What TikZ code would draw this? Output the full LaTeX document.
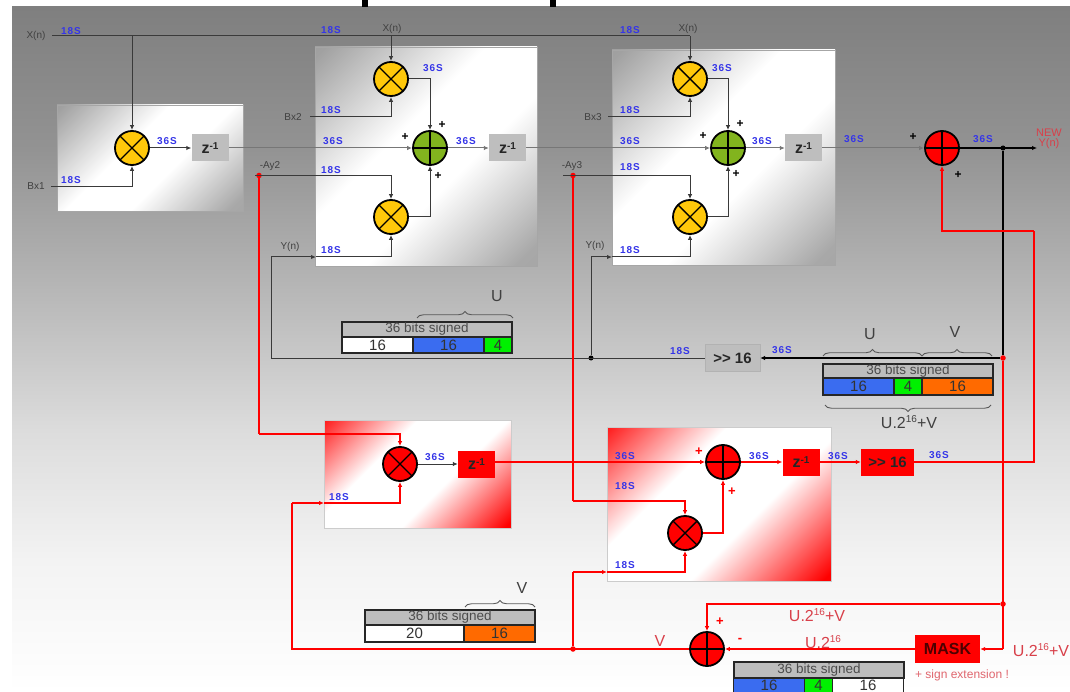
\documentclass[tikz,border=0pt]{standalone}
\usepackage{fontspec}
\setmainfont{Liberation Sans}
\newfontfamily\spacedbold[LetterSpace=9]{Liberation Sans Bold}
\usetikzlibrary{arrows.meta,decorations.pathreplacing}
\definecolor{lbl}{HTML}{404040}
\definecolor{bluetxt}{HTML}{3535E8}
\definecolor{redtxt}{HTML}{D8404A}
\definecolor{lined}{HTML}{3A3A3A}
\definecolor{linel}{HTML}{777777}
\definecolor{mulyellow}{HTML}{FFC80A}
\definecolor{addgreen}{HTML}{82B41E}
\definecolor{boxgray}{HTML}{BEBEBE}
\definecolor{hdrgray}{HTML}{BDBDBD}
\definecolor{cellblue}{HTML}{3A6CF0}
\definecolor{cellgreen}{HTML}{00F000}
\definecolor{cellorange}{HTML}{FF6A00}
\pgfdeclareverticalshading{bggrad}{100bp}{rgb(0bp)=(1,1,1);rgb(25bp)=(1,1,1);rgb(34.6bp)=(.953,.953,.953);rgb(44.1bp)=(.863,.863,.863);rgb(55.1bp)=(.706,.706,.706);rgb(64.6bp)=(.576,.576,.576);rgb(75bp)=(.498,.498,.498);rgb(100bp)=(.498,.498,.498)}
\pgfdeclarehorizontalshading{panelg}{100bp}{rgb(0bp)=(.62,.62,.62);rgb(18bp)=(.66,.66,.66);rgb(42bp)=(1,1,1);rgb(58bp)=(1,1,1);rgb(84bp)=(.63,.63,.63);rgb(100bp)=(.6,.6,.6)}
\pgfdeclarehorizontalshading{panelr}{100bp}{rgb(0bp)=(1,0,0);rgb(16bp)=(1,0,0);rgb(41bp)=(1,1,1);rgb(63bp)=(1,1,1);rgb(88bp)=(1,0,0);rgb(100bp)=(1,0,0)}
\newcommand{\fsz}[1]{\fontsize{#1}{#1}\selectfont}
\newcommand{\zinv}{\fsz{16}\textbf{z}\raisebox{4.5pt}{\fsz{10}\textbf{-1}}}
\newcommand{\ulab}[1]{U.2\raisebox{5.5pt}{\fsz{10}16}#1}
\tikzset{
 x=1pt,y=-1pt,
 panelgray/.style={rectangle,draw=gray!70,line width=.4pt,inner sep=0,shading=panelg,shading angle=135},
 panelred/.style={rectangle,draw=gray!40,line width=.4pt,inner sep=0,shading=panelr,shading angle=135},
 adder/.style={circle,draw=black,line width=1.8pt,minimum size=34pt,inner sep=0,fill=#1,path picture={\draw[black,line width=1.4pt](path picture bounding box.north)--(path picture bounding box.south)(path picture bounding box.west)--(path picture bounding box.east);}},
 mult/.style={circle,draw=black,line width=1.8pt,minimum size=34pt,inner sep=0,fill=#1,path picture={\draw[black,line width=1.4pt](path picture bounding box.north west)--(path picture bounding box.south east)(path picture bounding box.south west)--(path picture bounding box.north east);}},
 zbox/.style={rectangle,fill=#1,inner sep=0,minimum width=37pt,minimum height=27pt,text=black!85},
 lab/.style={text=lbl,font=\fsz{10},inner sep=0},
 bl/.style={text=bluetxt,font=\fsz{10}\spacedbold,inner sep=0},
 plusk/.style={text=black,font=\fsz{12}\bfseries,inner sep=0},
 plusr/.style={text=red,font=\fsz{13}\bfseries,inner sep=0},
 redlab/.style={text=redtxt,font=\fsz{16},inner sep=0},
 bigk/.style={text=lbl,font=\fsz{16},inner sep=0},
 cellbox/.style={rectangle,draw=black!85,line width=1.1pt,inner sep=0,text=black!80,font=\fsz{15}},
 hdrbox/.style={rectangle,draw=black!85,line width=1.1pt,fill=hdrgray,inner sep=0,text=black!70,font=\fsz{13.5}},
 sig/.style={draw=lined,line width=1pt},
 sigl/.style={draw=linel,line width=1pt},
 sigk/.style={draw=black,line width=1.3pt},
 sigr/.style={draw=red,line width=1.1pt},
 tip/.style={-{Latex[length=5pt,width=4.5pt]}},
 dotk/.style={circle,fill=black,inner sep=0,minimum size=5pt},
 dotr/.style={circle,fill=red,inner sep=0,minimum size=5.5pt},
 brc/.style={draw=black!65,line width=.9pt,decorate,decoration={brace,amplitude=6.5pt}},
 brcm/.style={draw=black!65,line width=.9pt,decorate,decoration={brace,amplitude=6.5pt,mirror}},
 stub/.style={rectangle,fill=black,inner sep=0,minimum width=6pt,minimum height=7pt},
}
\begin{document}
\begin{tikzpicture}
\useasboundingbox (0,0) rectangle (1070,692);
\fill[white] (0,0) rectangle (1070,692);
\shade[shading=bggrad] (12,7) rectangle (1070,692);
\node[stub] (st1) at (364.5,3.5) {};
\node[stub] (st2) at (553,3.5) {};
% panels
\node[panelgray,minimum width=186pt,minimum height=106pt] (p1) at (150,158) {};
\node[panelgray,minimum width=222pt,minimum height=219pt] (p2) at (426,156.5) {};
\node[panelgray,minimum width=223pt,minimum height=215pt] (p3) at (723.5,157.5) {};
\node[panelred,minimum width=187pt,minimum height=108pt] (p4) at (417.5,474) {};
\node[panelred,minimum width=224pt,minimum height=154pt] (p5) at (719,504) {};
% block nodes
\node[mult=mulyellow] (m1) at (132,148) {};
\node[zbox=boxgray] (z1) at (210,148) {\zinv};
\node[mult=mulyellow] (m2t) at (391,79) {};
\node[mult=mulyellow] (m2b) at (391,217) {};
\node[adder=addgreen] (a2) at (430,148) {};
\node[zbox=boxgray] (z2) at (507.5,148) {\zinv};
\node[mult=mulyellow] (m3t) at (690,79) {};
\node[mult=mulyellow] (m3b) at (690,217) {};
\node[adder=addgreen] (a3) at (728,148) {};
\node[zbox=boxgray] (z3) at (803.5,148) {\zinv};
\node[adder=red] (a4) at (942,148) {};
\node[rectangle,fill=boxgray,draw=gray!60,line width=.3pt,inner sep=0,minimum width=55pt,minimum height=27pt,font=\fsz{15}\bfseries,text=black!85] (sh1) at (732.5,358) {{>}{>} 16};
\node[mult=red] (m4) at (400,464) {};
\node[zbox=red] (z4) at (476.5,464) {\zinv};
\node[adder=red] (a5) at (723,462) {};
\node[mult=red] (m5) at (685,533) {};
\node[zbox=red] (z5) at (801,462) {\zinv};
\node[rectangle,fill=red,inner sep=0,minimum width=53pt,minimum height=27pt,font=\fsz{15}\bfseries,text=black!85] (sh2) at (887.5,462) {{>}{>} 16};
\node[adder=red] (a6) at (707,649) {};
\node[rectangle,fill=red,inner sep=0,minimum width=65pt,minimum height=28pt,font=\fsz{16}\bfseries,text=black!70!red] (mask) at (947.5,649) {MASK};
% junctions and free ends
\node[dotr] (dAy2) at (259,175.5) {};
\node[dotr] (dAy3) at (573,175.5) {};
\node[dotk] (dOut) at (1003,148) {};
\node[dotr] (dFb) at (1003,358) {};
\node[dotk] (dY3) at (591,358) {};
\node[dotr] (dV) at (573,649) {};
\node[dotr] (dU) at (1003,604) {};
\coordinate (xs) at (52,36);
\coordinate (xj1) at (132,36);
\coordinate (xj2) at (391,36);
\coordinate (xe) at (690,36);
\coordinate (bx1) at (51,187);
\coordinate (bx2) at (310,117);
\coordinate (bx3) at (608,117);
\coordinate (ay2) at (255,176);
\coordinate (ay3) at (563,176);
\coordinate (y2c) at (271,358);
\coordinate (y2u) at (271,257);
\coordinate (y2m) at (316,257);
\coordinate (y3u) at (591,257);
\coordinate (y3m) at (612,257);
\coordinate (newy) at (1037,148);
\coordinate (rfb) at (1034,231);
\coordinate (rfb2) at (1034,462);
\coordinate (ay2c) at (259,434);
\coordinate (ay3c) at (573,501);
\coordinate (vc) at (292,649);
\coordinate (vu) at (292,503);
\coordinate (vm) at (324,503);
\coordinate (v2u) at (573,572);
\coordinate (v2m) at (607,572);
\coordinate (maskin) at (1003,649);
% black connectors
\draw[sig] (xs) -- (xe);
\draw[sig,tip] (xj1) -- (m1.north);
\draw[sig,tip] (xj2) -- (m2t.north);
\draw[sig,tip] (xe) -- (m3t.north);
\draw[sig,tip] (bx1) -| (m1.south);
\draw[sig,tip] (m1.east) -- (z1.west);
\draw[sigl,tip] (z1.east) -- (a2.west);
\draw[sig,tip] (bx2) -| (m2t.south);
\draw[sig,tip] (m2t.east) -| (a2.north);
\draw[sig,tip] (m2b.east) -| (a2.south);
\draw[sig,tip] (ay2) -| (m2b.north);
\draw[sigl,tip] (a2.east) -- (z2.west);
\draw[sig,tip] (y2u) -- (y2m);
\draw[sig,tip] (y2m) -| (m2b.south);
\draw[sig] (sh1.west) -- (y2c) -- (y2u);
\draw[sigl,tip] (z2.east) -- (a3.west);
\draw[sig,tip] (bx3) -| (m3t.south);
\draw[sig,tip] (m3t.east) -| (a3.north);
\draw[sig,tip] (m3b.east) -| (a3.south);
\draw[sig,tip] (ay3) -| (m3b.north);
\draw[sigl,tip] (a3.east) -- (z3.west);
\draw[sig] (dY3) -- (y3u);
\draw[sig,tip] (y3u) -- (y3m);
\draw[sig,tip] (y3m) -| (m3b.south);
\draw[sigl,tip] (z3.east) -- (a4.west);
\draw[sigk,tip] (a4.east) -- (newy);
\draw[sigk] (dOut) -- (dFb);
\draw[sigk,tip] (dFb) -- (sh1.east);
\draw[sig,tip] (m4.east) -- (z4.west);
% red connectors
\draw[sigr] (dAy2) -- (ay2c);
\draw[sigr,tip] (ay2c) -| (m4.north);
\draw[sigr] (dAy3) -- (ay3c);
\draw[sigr,tip] (ay3c) -| (m5.north);
\draw[sigr,tip] (z4.east |- a5.west) -- (a5.west);
\draw[sigr,tip] (m5.east) -| (a5.south);
\draw[sigr,tip] (a5.east) -- (z5.west);
\draw[sigr,tip] (z5.east) -- (sh2.west);
\draw[sigr] (sh2.east) -- (rfb2) -- (rfb);
\draw[sigr,tip] (rfb) -| (a4.south);
\draw[sigr] (dFb) -- (maskin);
\draw[sigr,tip] (maskin) -- (mask.east);
\draw[sigr,tip] (dU) -| (a6.north);
\draw[sigr,tip] (mask.west) -- (a6.east);
\draw[sigr] (a6.west) -- (vc) -- (vu);
\draw[sigr,tip] (vu) -- (vm);
\draw[sigr,tip] (vm) -| (m4.south);
\draw[sigr] (dV) -- (v2u);
\draw[sigr,tip] (v2u) -- (v2m);
\draw[sigr,tip] (v2m) -| (m5.south);
% text labels
\node[lab] (tx1) at (36,36) {X(n)};
\node[lab] (tx2) at (392,29) {X(n)};
\node[lab] (tx3) at (688,29) {X(n)};
\node[lab] (tb1) at (36,186) {Bx1};
\node[lab] (tb2) at (293,117) {Bx2};
\node[lab] (tb3) at (593,117) {Bx3};
\node[lab] (ta2) at (270,166) {-Ay2};
\node[lab] (ta3) at (572,166) {-Ay3};
\node[lab] (ty2) at (290,247) {Y(n)};
\node[lab] (ty3) at (595,246) {Y(n)};
\node[inner sep=0,text=redtxt,font=\fsz{11},align=center] (tnew) at (1049,139) {NEW\\[-1pt]Y(n)};
\node[bl] (b1) at (71,31) {18S};
\node[bl] (b2) at (331,30) {18S};
\node[bl] (b3) at (630,30) {18S};
\node[bl] (b4) at (167,141) {36S};
\node[bl] (b5) at (71,180) {18S};
\node[bl] (b6) at (433,68) {36S};
\node[bl] (b7) at (331,110) {18S};
\node[bl] (b8) at (333,141) {36S};
\node[bl] (b9) at (466,141) {36S};
\node[bl] (b10) at (331,170) {18S};
\node[bl] (b11) at (331,250) {18S};
\node[bl] (b12) at (722,68) {36S};
\node[bl] (b13) at (630,110) {18S};
\node[bl] (b14) at (630,141) {36S};
\node[bl] (b15) at (762,141) {36S};
\node[bl] (b16) at (630,167) {18S};
\node[bl] (b17) at (630,250) {18S};
\node[bl] (b18) at (854,139) {36S};
\node[bl] (b19) at (983,139) {36S};
\node[bl] (b20) at (680,351) {18S};
\node[bl] (b21) at (782,350) {36S};
\node[bl] (b22) at (339,497) {18S};
\node[bl] (b23) at (435,457) {36S};
\node[bl] (b24) at (625,456) {36S};
\node[bl] (b25) at (625,486) {18S};
\node[bl] (b26) at (625,565) {18S};
\node[bl] (b27) at (759,456) {36S};
\node[bl] (b28) at (838,456) {36S};
\node[bl] (b29) at (939,455) {36S};
\node[plusk] (pl1) at (442,125) {+};
\node[plusk] (pl2) at (405,137) {+};
\node[plusk] (pl3) at (438,176) {+};
\node[plusk] (pl4) at (740,124) {+};
\node[plusk] (pl5) at (703,136) {+};
\node[plusk] (pl6) at (736,174) {+};
\node[plusk] (pl7) at (913,137) {+};
\node[plusk] (pl8) at (958,175) {+};
\node[plusr] (pr1) at (699,452) {+};
\node[plusr] (pr2) at (732,492) {+};
\node[plusr] (pr3) at (720,622) {+};
\node[plusr] (pr4) at (740,640) {-};
\node[redlab] (rl1) at (660,641) {V};
\node[redlab] (rl2) at (817,615) {\ulab{+V}};
\node[redlab] (rl3) at (823,642) {\ulab{}};
\node[redlab] (rl4) at (1041,650) {\ulab{+V}};
\node[inner sep=0,text=redtxt!80,font=\fsz{12}] (rl5) at (962,675) {+ sign extension !};
% table 1
\node[hdrbox,minimum width=170pt,minimum height=15pt] (t1h) at (427,329.5) {36 bits signed};
\node[cellbox,fill=white,minimum width=71pt,minimum height=16pt] (t1a) at (377.5,345) {16};
\node[cellbox,fill=cellblue,minimum width=71pt,minimum height=16pt] (t1b) at (448.5,345) {16};
\node[cellbox,fill=cellgreen,minimum width=28pt,minimum height=16pt] (t1c) at (498,345) {4};
\coordinate (t1bl) at (417,318);
\coordinate (t1br) at (513,318);
\draw[brc] (t1bl) -- (t1br);
\node[bigk] (t1u) at (497,296) {U};
% table 2
\node[hdrbox,minimum width=170pt,minimum height=14pt] (t2h) at (908,371) {36 bits signed};
\node[cellbox,fill=cellblue,minimum width=71pt,minimum height=17pt] (t2a) at (858.5,386.5) {16};
\node[cellbox,fill=cellgreen,minimum width=28pt,minimum height=17pt] (t2b) at (908,386.5) {4};
\node[cellbox,fill=cellorange,minimum width=71pt,minimum height=17pt] (t2c) at (957.5,386.5) {16};
\coordinate (t2u1) at (823,356);
\coordinate (t2u2) at (922,356);
\coordinate (t2v2) at (992,356);
\coordinate (t2w1) at (825,405);
\coordinate (t2w2) at (991,405);
\draw[brc] (t2u1) -- (t2u2);
\draw[brc] (t2u2) -- (t2v2);
\draw[brcm] (t2w1) -- (t2w2);
\node[bigk] (t2u) at (870,334) {U};
\node[bigk] (t2v) at (955,332) {V};
\node[bigk] (t2w) at (909,422) {\ulab{+V}};
% table 3
\node[hdrbox,minimum width=170pt,minimum height=15pt] (t3h) at (450,617.5) {36 bits signed};
\node[cellbox,fill=white,minimum width=99pt,minimum height=17pt] (t3a) at (414.5,633.5) {20};
\node[cellbox,fill=cellorange,minimum width=71pt,minimum height=17pt] (t3b) at (499.5,633.5) {16};
\coordinate (t3b1) at (465,607);
\coordinate (t3b2) at (535,607);
\draw[brc] (t3b1) -- (t3b2);
\node[bigk] (t3v) at (522,588) {V};
% table 4
\node[hdrbox,minimum width=170pt,minimum height=16pt] (t4h) at (819,670) {36 bits signed};
\node[cellbox,fill=cellblue,minimum width=71pt,minimum height=15pt] (t4a) at (769,685.5) {16};
\node[cellbox,fill=cellgreen,minimum width=28pt,minimum height=15pt] (t4b) at (818.5,685.5) {4};
\node[cellbox,fill=white,minimum width=71pt,minimum height=15pt] (t4c) at (868,685.5) {16};
\end{tikzpicture}
\end{document}
